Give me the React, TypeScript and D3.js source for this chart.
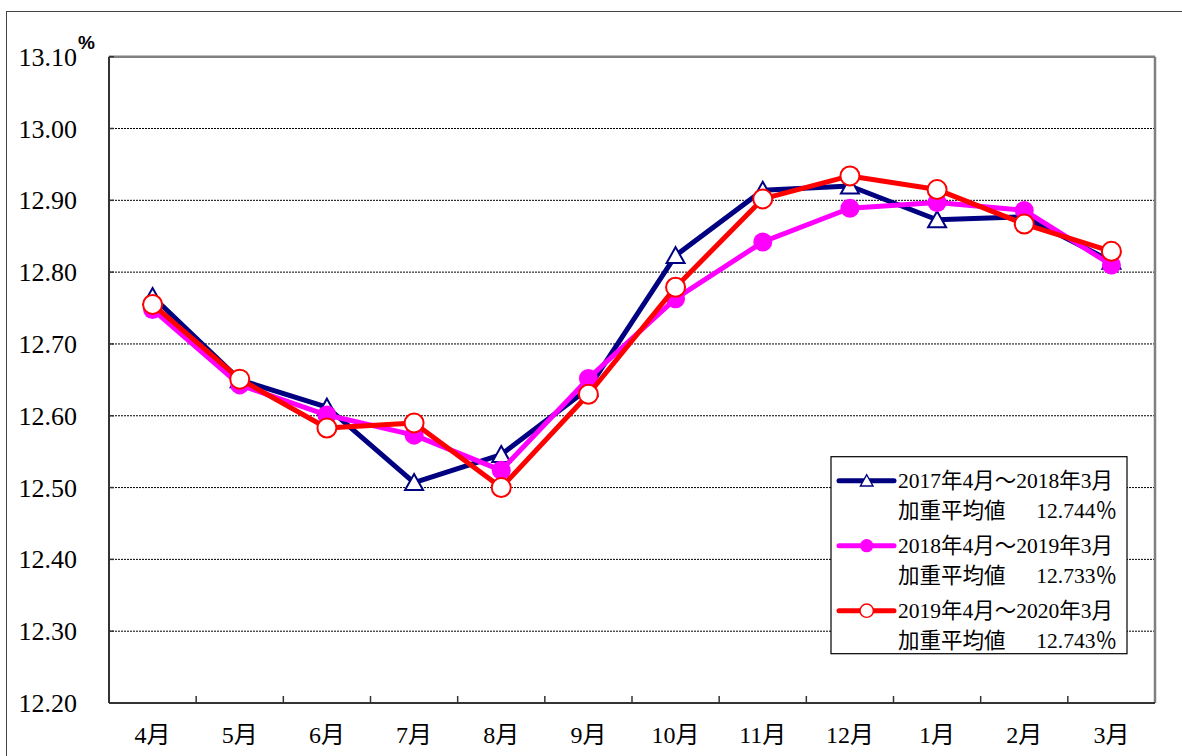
import * as d3 from 'd3';

const months = ['4月', '5月', '6月', '7月', '8月', '9月', '10月', '11月', '12月', '1月', '2月', '3月'];
const yTicks = [12.2, 12.3, 12.4, 12.5, 12.6, 12.7, 12.8, 12.9, 13.0, 13.1];

const s2017 = [12.766, 12.650, 12.612, 12.507, 12.546, 12.638, 12.823, 12.914, 12.920, 12.873, 12.877, 12.815];
const s2018 = [12.748, 12.643, 12.601, 12.573, 12.524, 12.652, 12.763, 12.842, 12.889, 12.897, 12.886, 12.810];
const s2019 = [12.755, 12.651, 12.583, 12.590, 12.500, 12.630, 12.779, 12.902, 12.934, 12.915, 12.867, 12.829];

const seriesLabels = ['2017年4月～2018年3月', '2018年4月～2019年3月', '2019年4月～2020年3月'];
const averages = ['12.744％', '12.733％', '12.743％'];

const serif = '"Liberation Serif", "DejaVu Serif", "Noto Sans CJK JP", serif';

type Marker = 'triangle' | 'dot' | 'ring';

function MarkerShape({ kind, cx, cy }: { kind: Marker; cx: number; cy: number }) {
  if (kind === 'triangle') {
    const h = 15;
    const w = 18;
    return (
      <path
        d={`M${cx},${cy - h / 2 - 1} L${cx + w / 2},${cy + h / 2} L${cx - w / 2},${cy + h / 2} Z`}
        fill="#fff"
        stroke="#000080"
        strokeWidth={2}
      />
    );
  }
  if (kind === 'dot') {
    return <circle cx={cx} cy={cy} r={9.5} fill="#ff00ff" />;
  }
  return <circle cx={cx} cy={cy} r={9.5} fill="#fff" stroke="#ff0000" strokeWidth={2} />;
}

export default function App() {
  const left = 109;
  const right = 1155;
  const top = 56.7;
  const bottom = 703;

  const x = d3.scaleBand<string>().domain(months).range([left, right]);
  const y = d3.scaleLinear().domain([12.2, 13.1]).range([bottom, top]);
  const cx = (m: string) => (x(m) ?? 0) + x.bandwidth() / 2;

  const line = d3
    .line<number>()
    .x((_, i) => cx(months[i]))
    .y((d) => y(d));

  const series = [
    { values: s2017, color: '#000080', marker: 'triangle' as Marker },
    { values: s2018, color: '#ff00ff', marker: 'dot' as Marker },
    { values: s2019, color: '#ff0000', marker: 'ring' as Marker },
  ];

  const legendX = 831;
  const legendY = 456.7;
  const rowGap = 65;

  return (
    <svg
      width={1182}
      height={756}
      style={{ position: 'absolute', left: 0, top: 0, display: 'block', background: '#fff' }}
    >
      {/* chart area frame */}
      <rect x={6.5} y={11.5} width={1300} height={900} fill="none" stroke="#444" strokeWidth={1} />

      {/* gridlines */}
      {yTicks.slice(1, -1).map((t) => (
        <line
          key={t}
          x1={left}
          x2={right}
          y1={y(t)}
          y2={y(t)}
          stroke="#000"
          strokeWidth={1}
          strokeDasharray="2,1"
        />
      ))}

      {/* plot border */}
      <line x1={left} x2={right} y1={top} y2={top} stroke="#808080" strokeWidth={2.5} />
      <line x1={right} x2={right} y1={top} y2={bottom} stroke="#808080" strokeWidth={2.5} />

      {/* axes */}
      <line x1={left} x2={left} y1={top} y2={bottom} stroke="#333" strokeWidth={2} />
      <line x1={left} x2={right} y1={bottom} y2={bottom} stroke="#333" strokeWidth={2} />
      {yTicks.map((t) => (
        <line key={t} x1={left} x2={left + 5} y1={y(t)} y2={y(t)} stroke="#333" strokeWidth={1.5} />
      ))}
      {months.slice(1).map((m) => (
        <line key={m} x1={x(m)} x2={x(m)} y1={bottom} y2={bottom - 7} stroke="#333" strokeWidth={1.5} />
      ))}

      {/* y labels */}
      {yTicks.map((t) => (
        <text
          key={t}
          x={77}
          y={y(t)}
          dy="0.35em"
          textAnchor="end"
          fontFamily={serif}
          fontSize={26}
          fill="#000"
        >
          {t.toFixed(2)}
        </text>
      ))}
      <text x={78} y={49} fontFamily="Arial, 'Liberation Sans', sans-serif" fontWeight="bold" fontSize={19}>
        %
      </text>

      {/* x labels */}
      {months.map((m) => (
        <text
          key={m}
          x={cx(m)}
          y={735}
          dy="0.35em"
          textAnchor="middle"
          fontFamily={serif}
          fontSize={24}
          fill="#000"
        >
          {m}
        </text>
      ))}

      {/* series */}
      {series.map((s) => (
        <g key={s.color}>
          <path d={line(s.values) ?? ''} fill="none" stroke={s.color} strokeWidth={5} strokeLinejoin="round" />
          {s.values.map((v, i) => (
            <MarkerShape key={i} kind={s.marker} cx={cx(months[i])} cy={y(v)} />
          ))}
        </g>
      ))}

      {/* legend */}
      <rect x={legendX} y={legendY} width={296} height={197} fill="#fff" stroke="#000" strokeWidth={1.2} />
      {series.map((s, i) => {
        const ry = 480.7 + i * rowGap;
        return (
          <g key={i}>
            <line x1={839} x2={894} y1={ry} y2={ry} stroke={s.color} strokeWidth={5} strokeLinecap="round" />
            <g transform={`translate(${866.7},${ry}) scale(0.7)`}>
              <MarkerShape kind={s.marker} cx={0} cy={0} />
            </g>
            <text x={898} y={ry} dy="0.35em" fontFamily={serif} fontSize={21.5} fill="#000">
              {seriesLabels[i]}
            </text>
            <text x={898} y={ry + 29.5} dy="0.35em" fontFamily={serif} fontSize={21.5} fill="#000">
              加重平均値
            </text>
            <text x={1117} y={ry + 29.5} dy="0.35em" textAnchor="end" fontFamily={serif} fontSize={21.5} fill="#000">
              {averages[i]}
            </text>
          </g>
        );
      })}
    </svg>
  );
}
